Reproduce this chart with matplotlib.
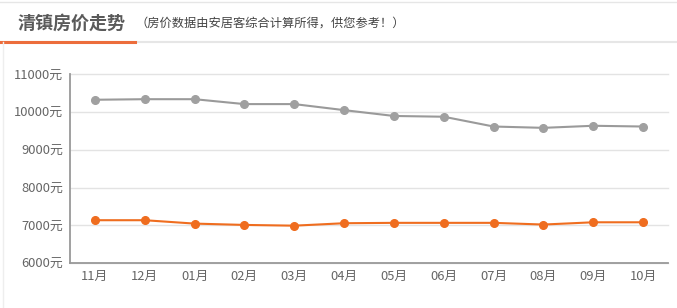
import matplotlib
matplotlib.use('Agg')
import matplotlib.pyplot as plt
from matplotlib.lines import Line2D

plt.rcParams['font.family'] = ['Noto Sans CJK SC', 'DejaVu Sans']

months = ['11月', '12月', '01月', '02月', '03月', '04月', '05月', '06月', '07月', '08月', '09月', '10月']
# upper series (gray) and local series (orange), yuan per square metre
gray_prices = [10330, 10345, 10345, 10215, 10215, 10055, 9900, 9880, 9620, 9585, 9640, 9620]
orange_prices = [7135, 7135, 7045, 7010, 6990, 7055, 7065, 7065, 7065, 7020, 7080, 7080]
yticks = [6000, 7000, 8000, 9000, 10000, 11000]

fig = plt.figure(figsize=(6.77, 3.08), dpi=100)

# header: title + note, orange underline and gray separator
fig.text(18 / 677, 1 - 23 / 308, '清镇房价走势', fontsize=13, fontweight='bold',
         color='#5a5a5a', va='center', ha='left')
fig.text(135 / 677, 1 - 23 / 308, '（房价数据由安居客综合计算所得，供您参考！）', fontsize=8.8,
         color='#444444', va='center', ha='left')
fig.add_artist(Line2D([0, 1], [1 - 42 / 308] * 2, color='#e6e6e6', lw=1.5,
                      transform=fig.transFigure))
fig.add_artist(Line2D([0, 135 / 677], [1 - 42 / 308] * 2, color='#ec6d3c', lw=2.2,
                      transform=fig.transFigure))
fig.add_artist(Line2D([0, 1], [1 - 1.5 / 308] * 2, color='#e6e6e6', lw=1,
                      transform=fig.transFigure))
fig.add_artist(Line2D([3 / 677] * 2, [0, 1 - 42 / 308], color='#eeeeee', lw=1,
                      transform=fig.transFigure))

ax = fig.add_axes([70 / 677, 1 - 263 / 308, (668 - 70) / 677, (263 - 74.5) / 308])
x = list(range(len(months)))
ax.plot(x, gray_prices, color='#9a9a9a', lw=1.5, marker='o', ms=5.5,
        markerfacecolor='#a0a0a0', markeredgecolor='#a0a0a0', zorder=3)
ax.plot(x, orange_prices, color='#ef6d1f', lw=1.5, marker='o', ms=5.5,
        markerfacecolor='#ef6d1f', markeredgecolor='#ef6d1f', zorder=3)

ax.set_xlim(-0.5, 11.5)
ax.set_ylim(6000, 11000)
ax.set_xticks(x)
ax.set_xticklabels(months)
ax.set_yticks(yticks)
ax.set_yticklabels([f'{v}元' for v in yticks])
ax.grid(axis='y', color='#e3e3e3', lw=1)
for gl in ax.get_ygridlines():
    gl.set_clip_on(False)
ax.set_axisbelow(True)
for s in ['top', 'right']:
    ax.spines[s].set_visible(False)
for s in ['left', 'bottom']:
    ax.spines[s].set_color('#999999')
    ax.spines[s].set_linewidth(1.3)
ax.tick_params(length=0, labelsize=9.3, colors='#666666', pad=5)

fig.savefig('out.png', dpi=100)
